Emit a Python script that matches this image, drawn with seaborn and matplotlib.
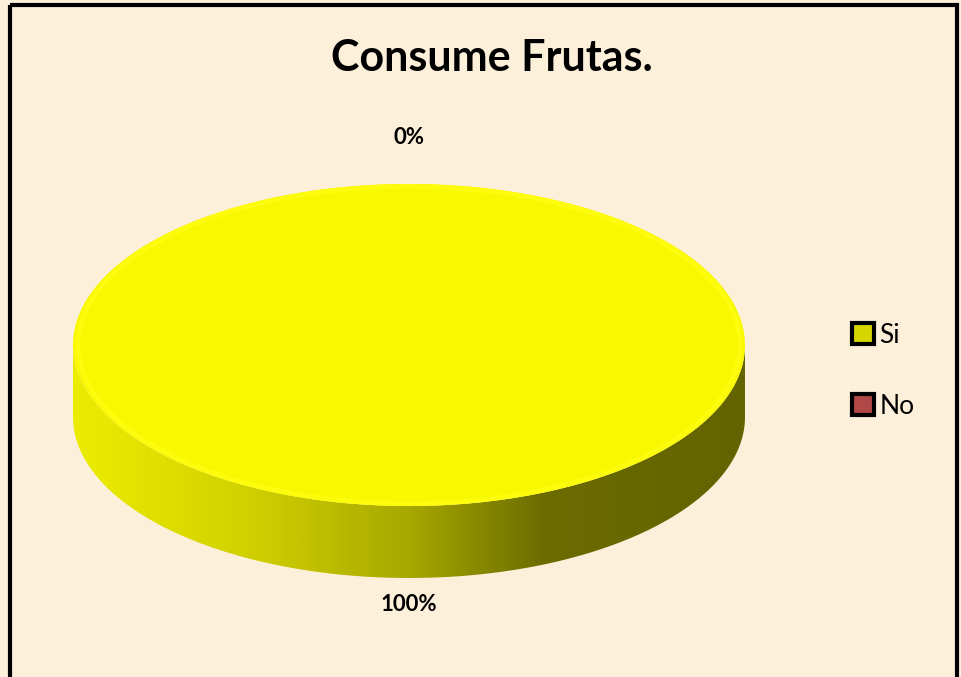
import numpy as np
import matplotlib
matplotlib.use("Agg")
import matplotlib.pyplot as plt
import seaborn as sns
from matplotlib.patches import Rectangle, Patch, Polygon, Circle
from matplotlib.colors import LinearSegmentedColormap

sns.set_style("white")
plt.rcParams['font.family'] = ['Lato', 'DejaVu Sans']

categories = ["Si", "No"]
values = [100, 0]
colors = ["#F8F800", "#B04848"]
legend_colors = ["#D6D600", "#B04848"]
title = "Consume Frutas."

W, H = 961, 677
fig = plt.figure(figsize=(W / 100, H / 100), dpi=100)
bg = "#FDF0DA"
fig.patch.set_facecolor(bg)

base = fig.add_axes([0, 0, 1, 1])
base.set_xlim(0, W)
base.set_ylim(H, 0)
base.axis("off")

base.add_patch(Rectangle((10, 5), 947, 700, fill=False, edgecolor="black", lw=3, zorder=5))

cx, cy, a, b, depth = 409, 345, 336, 161, 72

t = np.linspace(np.pi, 2 * np.pi, 200)
lower = [(cx + a * np.cos(tt), cy - b * np.sin(tt) + depth) for tt in t]
upper = [(cx + a * np.cos(tt), cy - b * np.sin(tt)) for tt in t[::-1]]
side = Polygon(lower + upper, closed=True, facecolor="none", edgecolor="none")
base.add_patch(side)
cmap = LinearSegmentedColormap.from_list(
    "side", [(0, "#ECEC00"), (0.25, "#D2D200"), (0.5, "#A8A800"), (0.7, "#6C6C00"), (1.0, "#636300")])
grad = np.linspace(0, 1, 400).reshape(1, -1)
im = base.imshow(grad, cmap=cmap, extent=(cx - a, cx + a, cy + b + depth, cy - b),
                 aspect="auto", zorder=1)
im.set_clip_path(side)
base.set_xlim(0, W)
base.set_ylim(H, 0)

fx0 = (cx - a) / W
fy0 = 1 - (cy + b) / H
pax = fig.add_axes([fx0, fy0, 2 * a / W, 2 * b / H])
pax.patch.set_alpha(0)
total = sum(values)
pct_labels = [f"{round(v / total * 100)}%" for v in values]
wedges, texts = pax.pie(values, colors=colors, startangle=90, counterclock=False,
                        labels=pct_labels, labeldistance=1.29,
                        wedgeprops=dict(linewidth=0),
                        textprops=dict(fontsize=16, fontweight="bold", color="black"))
pax.set_aspect("auto")
pax.set_xlim(-1, 1)
pax.set_ylim(-1, 1)
pax.axis("off")
pax.add_patch(Circle((0, 0), 0.985, fill=False, edgecolor="#FCFC0C", lw=3.5))
for tx in texts:
    tx.set_clip_on(False)
    tx.set_ha("center")
    tx.set_va("center")
    x, y = tx.get_position()
    if y < 0:
        tx.set_position((x, -1.61))

fig.text(492 / W, 1 - 58 / H, title, ha="center", va="center",
         fontsize=31, fontweight="bold", color="black")

handles = [Patch(facecolor=c, edgecolor="black", linewidth=3, label=l)
           for c, l in zip(legend_colors, categories)]
leg = fig.legend(handles=handles, loc="center left", bbox_to_anchor=(828 / W, 1 - 371 / H),
                 frameon=False, fontsize=19, handlelength=0.85, handleheight=0.85,
                 handletextpad=0.2, labelspacing=1.75)
for txt in leg.get_texts():
    txt.set_color("black")

fig.savefig("out.png", dpi=100, facecolor=bg)
